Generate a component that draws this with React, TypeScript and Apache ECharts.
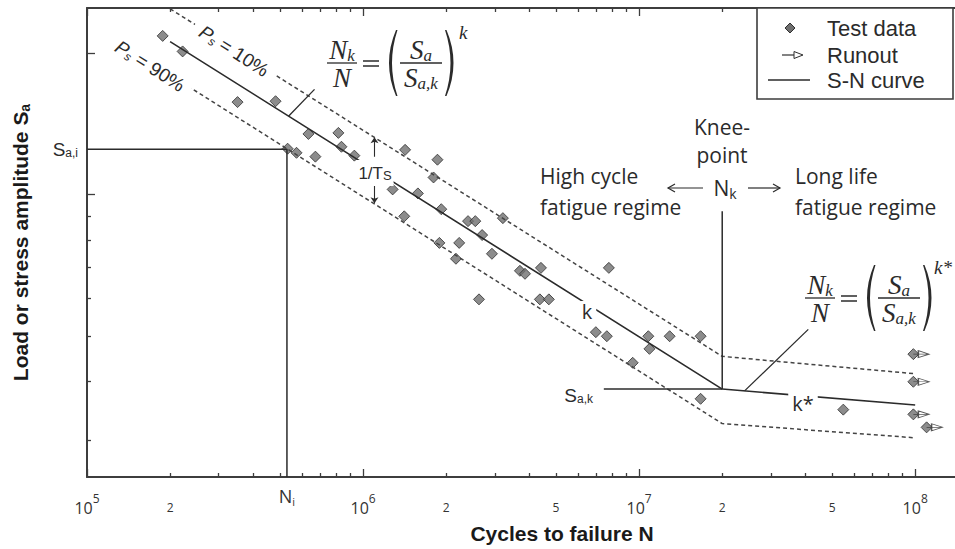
import React, { useEffect, useRef } from "react";
import * as echarts from "echarts";

const L = Math.log10;

// ---- test results: cycles to failure N and load amplitude Sa ----
const testCycles = [
  1.88e5, 2.22e5, 3.51e5, 4.82e5, 6.34e5, 8.14e5, 8.35e5, 9.3e5, 5.33e5, 5.74e5,
  6.72e5, 1.42e6, 1.86e6, 1.8e6, 1.28e6, 1.58e6, 1.92e6, 1.41e6, 2.4e6, 2.55e6,
  3.21e6, 2.7e6, 1.89e6, 2.23e6, 2.17e6, 2.93e6, 3.7e6, 3.86e6, 4.41e6, 7.77e6,
  2.63e6, 4.37e6, 4.71e6, 6.97e6, 7.64e6, 1.08e7, 1.29e7, 1.67e7, 1.09e7, 9.48e6,
  1.67e7, 5.49e7,
];
const testAmplitude = [
  2.18, 2.02, 1.575, 1.582, 1.347, 1.354, 1.265, 1.211, 1.253, 1.228,
  1.205, 1.246, 1.187, 1.088, 1.026, 1.006, 0.931, 0.899, 0.878, 0.878,
  0.891, 0.82, 0.789, 0.789, 0.73, 0.748, 0.688, 0.678, 0.698, 0.698,
  0.598, 0.598, 0.598, 0.509, 0.499, 0.499, 0.499, 0.499, 0.469, 0.438,
  0.367, 0.348,
];
// specimens stopped without failure
const runoutCycles = [9.85e7, 9.85e7, 9.85e7, 1.1e8];
const runoutAmplitude = [0.457, 0.399, 0.34, 0.319];

// bilinear S-N curve (median) and scatter band, corner points
const curveCycles = [2e5, 2e7, 1e8];
const snMedian = [2.12, 0.385, 0.356];
const snP10 = [2.49, 0.452, 0.415];
const snP90 = [1.8, 0.325, 0.303];

// reference points
const kneeCycles = 2e7;
const kneeAmplitude = 0.385;
const iCycles = 5.3e5;
const iAmplitude = 1.25;
const tsCycles = 1.1e6;
const tsArrowUp = [1.205, 1.325];
const tsArrowDown = [1.05, 0.958];

// axis ranges and ticks
const nMin = 1e5;
const nMax = 1.394e8;
const sMin = 0.25;
const sMax = 2.5;
const decadeTicks = [1e5, 1e6, 1e7, 1e8];
const minorMultipliers = [2, 3, 4, 5, 6, 7, 8, 9];
const minorTickLabels = [2e5, 2e6, 5e6, 2e7, 5e7];
const sMinorTicks = [0.3, 0.4, 0.5, 0.6, 0.7, 0.8, 0.9];
const sMajorTicks = [1, 2];

const INK = "#2b2b2b";
const AX = "#3d3d3d";
const SANS = "'Liberation Sans', Arial, sans-serif";
const OPEN = "'Open Sans', sans-serif";
const SERIF = "'Liberation Serif', serif";

echarts.graphic.registerShape(
  "paren",
  echarts.graphic.extendPath("M11,0 Q-3,33 11,66 L12.5,66 Q1.5,33 12.5,0 Z", {})
);

const xMinor: number[] = [];
[1e5, 1e6, 1e7, 1e8].forEach((d) =>
  minorMultipliers.forEach((m) => {
    if (d * m <= nMax) xMinor.push(L(d * m));
  })
);

const pair = (n: number, s: number) => [L(n), L(s)];

const txt = (x: number, y: number, text: string, style: any = {}, z = 100) => ({
  type: "text",
  x,
  y,
  z,
  silent: true,
  style: {
    text,
    fill: INK,
    fontFamily: OPEN,
    fontSize: 21,
    align: "center",
    verticalAlign: "middle",
    ...style,
  },
});
const seg = (x1: number, y1: number, x2: number, y2: number, w = 1.4) => ({
  type: "line",
  z: 100,
  silent: true,
  shape: { x1, y1, x2, y2 },
  style: { stroke: INK, lineWidth: w },
});

function formula(x0: number, yb: number, exp: string, expDx: number) {
  const rich = {
    m: { fontFamily: SERIF, fontStyle: "italic", fontSize: 27, lineHeight: 28, fill: INK },
    s: { fontFamily: SERIF, fontStyle: "italic", fontSize: 17, lineHeight: 14, verticalAlign: "bottom", fill: INK },
  };
  return [
    txt(x0 + 15, yb - 13, "{m|N}{s|k}", { rich }),
    seg(x0, yb, x0 + 30, yb, 1.3),
    txt(x0 + 15, yb + 15, "{m|N}", { rich }),
    seg(x0 + 36, yb - 2, x0 + 52, yb - 2, 1.5),
    seg(x0 + 36, yb + 3, x0 + 52, yb + 3, 1.5),
    { type: "paren", x: x0 + 58, y: yb - 33, z: 100, silent: true, style: { fill: INK } },
    txt(x0 + 94, yb - 13, "{m|S}{s|a}", { rich }),
    seg(x0 + 73, yb, x0 + 115, yb, 1.3),
    txt(x0 + 94, yb + 15, "{m|S}{s|a,k}", { rich }),
    { type: "paren", x: x0 + 130.5, y: yb - 33, scaleX: -1, z: 100, silent: true, style: { fill: INK } },
    txt(x0 + expDx, yb - 31, exp, { fontFamily: SERIF, fontStyle: "italic", fontSize: 19, align: "left" }),
  ];
}

const psRich = {
  p: { fontFamily: SANS, fontStyle: "italic", fontSize: 19, lineHeight: 20, fill: INK },
  s: { fontFamily: SANS, fontStyle: "italic", fontSize: 12, lineHeight: 8, verticalAlign: "bottom", fill: INK },
  t: { fontFamily: SANS, fontSize: 19, lineHeight: 20, fill: INK },
};
const subRich = {
  S: { fontFamily: SANS, fontSize: 19, lineHeight: 20, fill: INK },
  sub: { fontFamily: SANS, fontSize: 12, lineHeight: 10, verticalAlign: "bottom", fill: INK },
};

const lineSeries = (pts: number[][], style: any) => ({
  type: "line",
  data: pts,
  symbol: "none",
  showSymbol: false,
  silent: true,
  lineStyle: { color: INK, width: 1.5, ...style },
  emphasis: { disabled: true },
});

function buildOption(): any {
  const common = {
    type: "value",
    min: L(nMin),
    max: L(nMax),
    splitLine: { show: false },
  };
  const yCommon = {
    type: "value",
    min: L(sMin),
    max: L(sMax),
    splitLine: { show: false },
  };
  const tickStyle = { color: AX, width: 1.3 };
  const labelColor = "#333";

  const graphic: any[] = [
    // scatter band labels along the dashed lines
    {
      type: "text", x: 234, y: 51, rotation: -0.565, z: 100, silent: true,
      style: { text: "{p|P}{s|s}{t| = 10%}", rich: psRich, align: "center", verticalAlign: "middle", backgroundColor: "#fff", padding: [0, 8] },
    },
    {
      type: "text", x: 150, y: 66, rotation: -0.565, z: 100, silent: true,
      style: { text: "{p|P}{s|s}{t| = 90%}", rich: psRich, align: "center", verticalAlign: "middle", backgroundColor: "#fff", padding: [0, 8] },
    },
    // slope labels
    txt(375, 173, "{a|1/T}{b|S}", {
      backgroundColor: "#fff",
      padding: [4, 2],
      rich: {
        a: { fontFamily: SANS, fontSize: 17, lineHeight: 18, fill: INK },
        b: { fontFamily: SANS, fontSize: 13, lineHeight: 4, verticalAlign: "bottom", fill: INK },
      },
    }),
    txt(587, 311, "k", { fontSize: 20, backgroundColor: "#fff", padding: [0, 4] }),
    txt(803, 403, "k*", { fontSize: 20, backgroundColor: "#fff", padding: [0, 4] }),
    txt(593, 395, "{S|S}{sub|a,k}", { align: "right", rich: subRich }),
    // knee point description
    txt(722, 127, "Knee-"),
    txt(722, 155, "point"),
    txt(725, 188, "{n|N}{k|k}", {
      rich: {
        n: { fontFamily: OPEN, fontSize: 21, lineHeight: 24, fill: INK },
        k: { fontFamily: OPEN, fontSize: 14, lineHeight: 10, verticalAlign: "bottom", fill: INK },
      },
    }),
    seg(668, 188, 703, 188, 1.2),
    { type: "polyline", z: 100, silent: true, shape: { points: [[675, 184], [668, 188], [675, 192]] }, style: { stroke: INK, lineWidth: 1.2, fill: null } },
    seg(748, 188, 780, 188, 1.2),
    { type: "polyline", z: 100, silent: true, shape: { points: [[773, 184], [780, 188], [773, 192]] }, style: { stroke: INK, lineWidth: 1.2, fill: null } },
    txt(540, 176, "High cycle", { align: "left" }),
    txt(540, 207, "fatigue regime", { align: "left" }),
    txt(795, 176, "Long life", { align: "left" }),
    txt(795, 207, "fatigue regime", { align: "left" }),
    // Basquin equations
    ...formula(327, 63, "k", 132),
    ...formula(805, 298, "k*", 129),
    // legend
    { type: "rect", z: 100, silent: true, shape: { x: 757, y: 8, width: 196, height: 91 }, style: { fill: "#fff", stroke: AX, lineWidth: 1.6 } },
    { type: "polygon", z: 101, silent: true, shape: { points: [[790, 23], [795, 28], [790, 33], [785, 28]] }, style: { fill: "#6f6f6f", stroke: "#2f2f2f", lineWidth: 1 } },
    { type: "line", z: 101, silent: true, shape: { x1: 782, y1: 55, x2: 796, y2: 55 }, style: { stroke: "#2f2f2f", lineWidth: 1.2 } },
    { type: "polygon", z: 101, silent: true, shape: { points: [[794, 51.5], [803, 55], [794, 58.5]] }, style: { fill: "#fff", stroke: "#2f2f2f", lineWidth: 1 } },
    { type: "line", z: 101, silent: true, shape: { x1: 768, y1: 80, x2: 810, y2: 80 }, style: { stroke: INK, lineWidth: 1.5 } },
    txt(827, 28, "Test data", { fontFamily: SANS, fontSize: 22, align: "left" }, 101),
    txt(827, 55, "Runout", { fontFamily: SANS, fontSize: 22, align: "left" }, 101),
    txt(827, 80, "S-N curve", { fontFamily: SANS, fontSize: 22, align: "left" }, 101),
  ];

  return {
    animation: false,
    backgroundColor: "#fff",
    grid: { left: 85, top: 8, right: 0, bottom: 68 },
    xAxis: [
      {
        ...common,
        position: "bottom",
        axisLine: { show: true, onZero: false, lineStyle: { color: AX, width: 2 } },
        axisTick: { show: true, inside: true, length: 4, customValues: xMinor, lineStyle: tickStyle },
        axisLabel: {
          show: true,
          customValues: decadeTicks.map(L),
          margin: 15,
          formatter: (v: number) => `{b|10}{s|${Math.round(v)}}`,
          rich: {
            b: { fontFamily: OPEN, fontSize: 16, lineHeight: 24, verticalAlign: "bottom", color: labelColor },
            s: { fontFamily: OPEN, fontSize: 12, lineHeight: 8, verticalAlign: "top", color: labelColor },
          },
        },
        name: "Cycles to failure N",
        nameLocation: "middle",
        nameGap: 45,
        nameTextStyle: { fontFamily: SANS, fontWeight: "bold", fontSize: 21, lineHeight: 22, color: "#1a1a1a", padding: [0, 0, 0, 82] },
      },
      {
        ...common,
        position: "bottom",
        axisLine: { show: false, onZero: false },
        axisTick: { show: true, inside: true, length: 8, customValues: decadeTicks.map(L), lineStyle: tickStyle },
        axisLabel: {
          show: true,
          customValues: minorTickLabels.map(L),
          margin: 23,
          fontFamily: OPEN,
          fontSize: 12,
          lineHeight: 14,
          color: labelColor,
          formatter: (v: number) => String(Math.round(Math.pow(10, v - Math.floor(v + 1e-9)))),
        },
      },
      {
        ...common,
        position: "bottom",
        axisLine: { show: false, onZero: false },
        axisTick: { show: false },
        axisLabel: {
          show: true,
          customValues: [L(iCycles)],
          margin: 8,
          formatter: () => "{n|N}{i|i}",
          rich: {
            n: { fontFamily: OPEN, fontSize: 18, lineHeight: 22, color: labelColor },
            i: { fontFamily: OPEN, fontSize: 11, lineHeight: 10, verticalAlign: "bottom", color: labelColor },
          },
        },
      },
      {
        ...common,
        position: "top",
        axisLine: { show: true, onZero: false, lineStyle: { color: AX, width: 2 } },
        axisTick: { show: true, inside: true, length: 4, customValues: xMinor, lineStyle: tickStyle },
        axisLabel: { show: false },
      },
      {
        ...common,
        position: "top",
        axisLine: { show: false, onZero: false },
        axisTick: { show: true, inside: true, length: 8, customValues: decadeTicks.map(L), lineStyle: tickStyle },
        axisLabel: { show: false },
      },
    ],
    yAxis: [
      {
        ...yCommon,
        position: "left",
        axisLine: { show: true, onZero: false, lineStyle: { color: AX, width: 2 } },
        axisTick: { show: true, inside: true, length: 4, customValues: sMinorTicks.map(L), lineStyle: tickStyle },
        axisLabel: {
          show: true,
          customValues: [L(iAmplitude)],
          margin: 9,
          formatter: () => "{S|S}{sub|a,i}",
          rich: {
            S: { fontFamily: SANS, fontSize: 19, lineHeight: 20, color: INK },
            sub: { fontFamily: SANS, fontSize: 12, lineHeight: 10, verticalAlign: "bottom", color: INK },
          },
        },
        name: "Load or stress amplitude S{a|a}",
        nameLocation: "middle",
        nameGap: 55,
        nameTextStyle: {
          fontFamily: SANS,
          fontWeight: "bold",
          fontSize: 21,
          lineHeight: 24,
          color: "#1a1a1a",
          rich: {
            a: { fontFamily: SANS, fontWeight: "bold", fontSize: 14, lineHeight: 10, verticalAlign: "bottom", color: "#1a1a1a" },
          },
        },
      },
      {
        ...yCommon,
        position: "left",
        axisLine: { show: false, onZero: false },
        axisTick: { show: true, inside: true, length: 8, customValues: sMajorTicks.map(L), lineStyle: tickStyle },
        axisLabel: { show: false },
      },
    ],
    series: [
      lineSeries(curveCycles.map((n, i) => pair(n, snP10[i])), { type: [4, 3], color: "#444" }),
      lineSeries(curveCycles.map((n, i) => pair(n, snP90[i])), { type: [4, 3], color: "#444" }),
      lineSeries(curveCycles.map((n, i) => pair(n, snMedian[i])), { width: 1.6 }),
      // construction lines for Sa,i / Ni
      lineSeries([pair(nMin, iAmplitude), pair(iCycles, iAmplitude), pair(iCycles, sMin)], {}),
      // knee point construction lines
      lineSeries([pair(7.45e6, kneeAmplitude), pair(kneeCycles, kneeAmplitude)], {}),
      lineSeries([pair(kneeCycles, 0.922), pair(kneeCycles, kneeAmplitude)], {}),
      // leaders from the equations to the curve
      lineSeries([pair(5.37e5, 1.469), pair(6.67e5, 1.677)], { width: 1.3 }),
      lineSeries([pair(2.41e7, 0.3816), pair(4.1e7, 0.516)], { width: 1.3 }),
      {
        type: "lines",
        coordinateSystem: "cartesian2d",
        silent: true,
        symbol: ["none", "arrow"],
        symbolSize: 6,
        lineStyle: { color: INK, width: 1.1, opacity: 1 },
        data: [
          { coords: [pair(tsCycles, tsArrowUp[0]), pair(tsCycles, tsArrowUp[1])] },
          { coords: [pair(tsCycles, tsArrowDown[0]), pair(tsCycles, tsArrowDown[1])] },
        ],
      },
      {
        type: "scatter",
        name: "Test data",
        data: testCycles.map((n, i) => pair(n, testAmplitude[i])),
        symbol: "diamond",
        symbolSize: 11,
        itemStyle: { color: "#6f6f6f", borderColor: "#2f2f2f", borderWidth: 1 },
        emphasis: { disabled: true },
        silent: true,
      },
      {
        type: "scatter",
        data: runoutCycles.map((n, i) => pair(n, runoutAmplitude[i])),
        symbol: "diamond",
        symbolSize: 11,
        itemStyle: { color: "#6f6f6f", borderColor: "#2f2f2f", borderWidth: 1 },
        emphasis: { disabled: true },
        silent: true,
      },
      {
        type: "scatter",
        name: "Runout",
        data: runoutCycles.map((n, i) => pair(n, runoutAmplitude[i])),
        symbol: "path://M0,3.5 L16,3.5 M5,0 L16,3.5 L5,7 Z",
        symbolSize: [16, 7],
        symbolOffset: [8, 0],
        itemStyle: { color: "#fff", borderColor: "#2f2f2f", borderWidth: 1 },
        emphasis: { disabled: true },
        silent: true,
      },
    ],
    graphic,
  };
}

export default function App() {
  const ref = useRef<HTMLDivElement>(null);
  useEffect(() => {
    const el = ref.current;
    if (!el) return;
    const chart = echarts.init(el, null, { renderer: "svg" });
    chart.setOption(buildOption());
    return () => chart.dispose();
  }, []);
  return (
    <div
      ref={ref}
      style={{ position: "fixed", left: 0, top: 0, width: 955, height: 549, background: "#fff" }}
    />
  );
}
